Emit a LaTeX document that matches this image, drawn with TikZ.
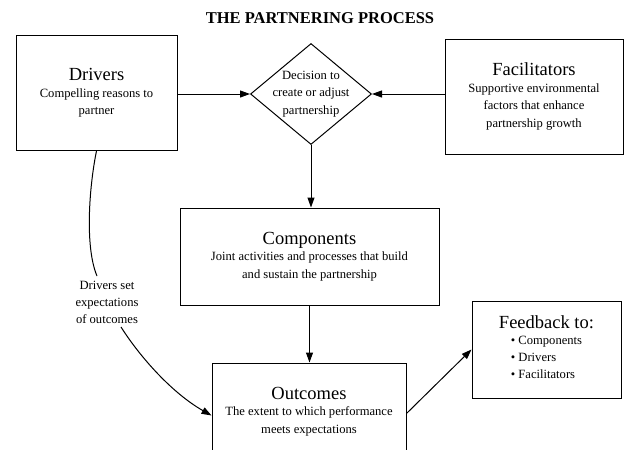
\documentclass[tikz,border=0pt]{standalone}
\usepackage{fontspec}
\setmainfont{Liberation Serif}
\usetikzlibrary{shapes.geometric,arrows.meta}
\begin{document}
\begin{tikzpicture}[x=1pt,y=-1pt,
  box/.style={draw,line width=1pt,rectangle,align=center,inner sep=2pt,font=\fontsize{12.6}{17.5}\selectfont},
  conn/.style={line width=1pt,-{Triangle[length=10pt,width=7pt]}},
  plain/.style={line width=1pt}]
\useasboundingbox (0,0) rectangle (625,450);
\node[font=\bfseries\fontsize{16.5}{18}\selectfont] (title) at (320,18) {THE PARTNERING PROCESS};
\node[box,minimum width=161pt,minimum height=115pt] (drivers) at (96.5,93)
  {{\fontsize{18.5}{20}\selectfont Drivers}\\[-1pt]Compelling reasons to\\partner};
\node[draw,line width=1pt,diamond,minimum width=121pt,minimum height=101pt,inner sep=0pt] (decision) at (311,94) {};
\node[align=center,font=\fontsize{12.6}{17.5}\selectfont,inner sep=0pt] (decisiontext) at (311,94)
  {Decision to\\create or adjust\\partnership};
\node[box,minimum width=178pt,minimum height=115pt] (facil) at (534,96.5)
  {{\fontsize{18.5}{20}\selectfont Facilitators}\\[-1pt]Supportive environmental\\factors that enhance\\partnership growth};
\node[box,minimum width=259pt,minimum height=97pt] (comp) at (309.5,256.5)
  {{\fontsize{18.5}{20}\selectfont Components}\\[-1pt]Joint activities and processes that build\\and sustain the partnership};
\node[box,minimum width=194pt,minimum height=97pt] (outc) at (309,411.5)
  {{\fontsize{18.5}{20}\selectfont Outcomes}\\[-1pt]The extent to which performance\\meets expectations};
\node[box,minimum width=149pt,minimum height=97pt] (feed) at (546.5,349.5)
  {{\fontsize{18.5}{20}\selectfont Feedback to:}\\[-1pt]
   \begin{tabular}[t]{@{}l@{}}\textbullet\ Components\\[-0.5pt]\textbullet\ Drivers\\[-0.5pt]\textbullet\ Facilitators\end{tabular}};
\node[align=center,font=\fontsize{12.6}{17}\selectfont,inner sep=1pt] (dlabel) at (107,302)
  {Drivers set\\expectations\\of outcomes};
\coordinate (c1) at (97,276);
\coordinate (c2) at (121,327);
% connectors
\draw[conn] (drivers.east |- decision.west) -- (decision.west);
\draw[conn] (facil.west |- decision.east) -- (decision.east);
\draw[conn] (decision.south) -- (decision.south |- comp.north);
\draw[conn] (comp.south) -- (comp.south |- outc.north);
\draw[conn] ([yshift=-2pt]outc.east) -- (feed.west);
\draw[plain] (drivers.south) .. controls (90,182) and (84,245) .. (c1);
\draw[conn] (c2) .. controls (140,357) and (172,393) .. ([yshift=-4pt]outc.west);
\end{tikzpicture}
\end{document}
